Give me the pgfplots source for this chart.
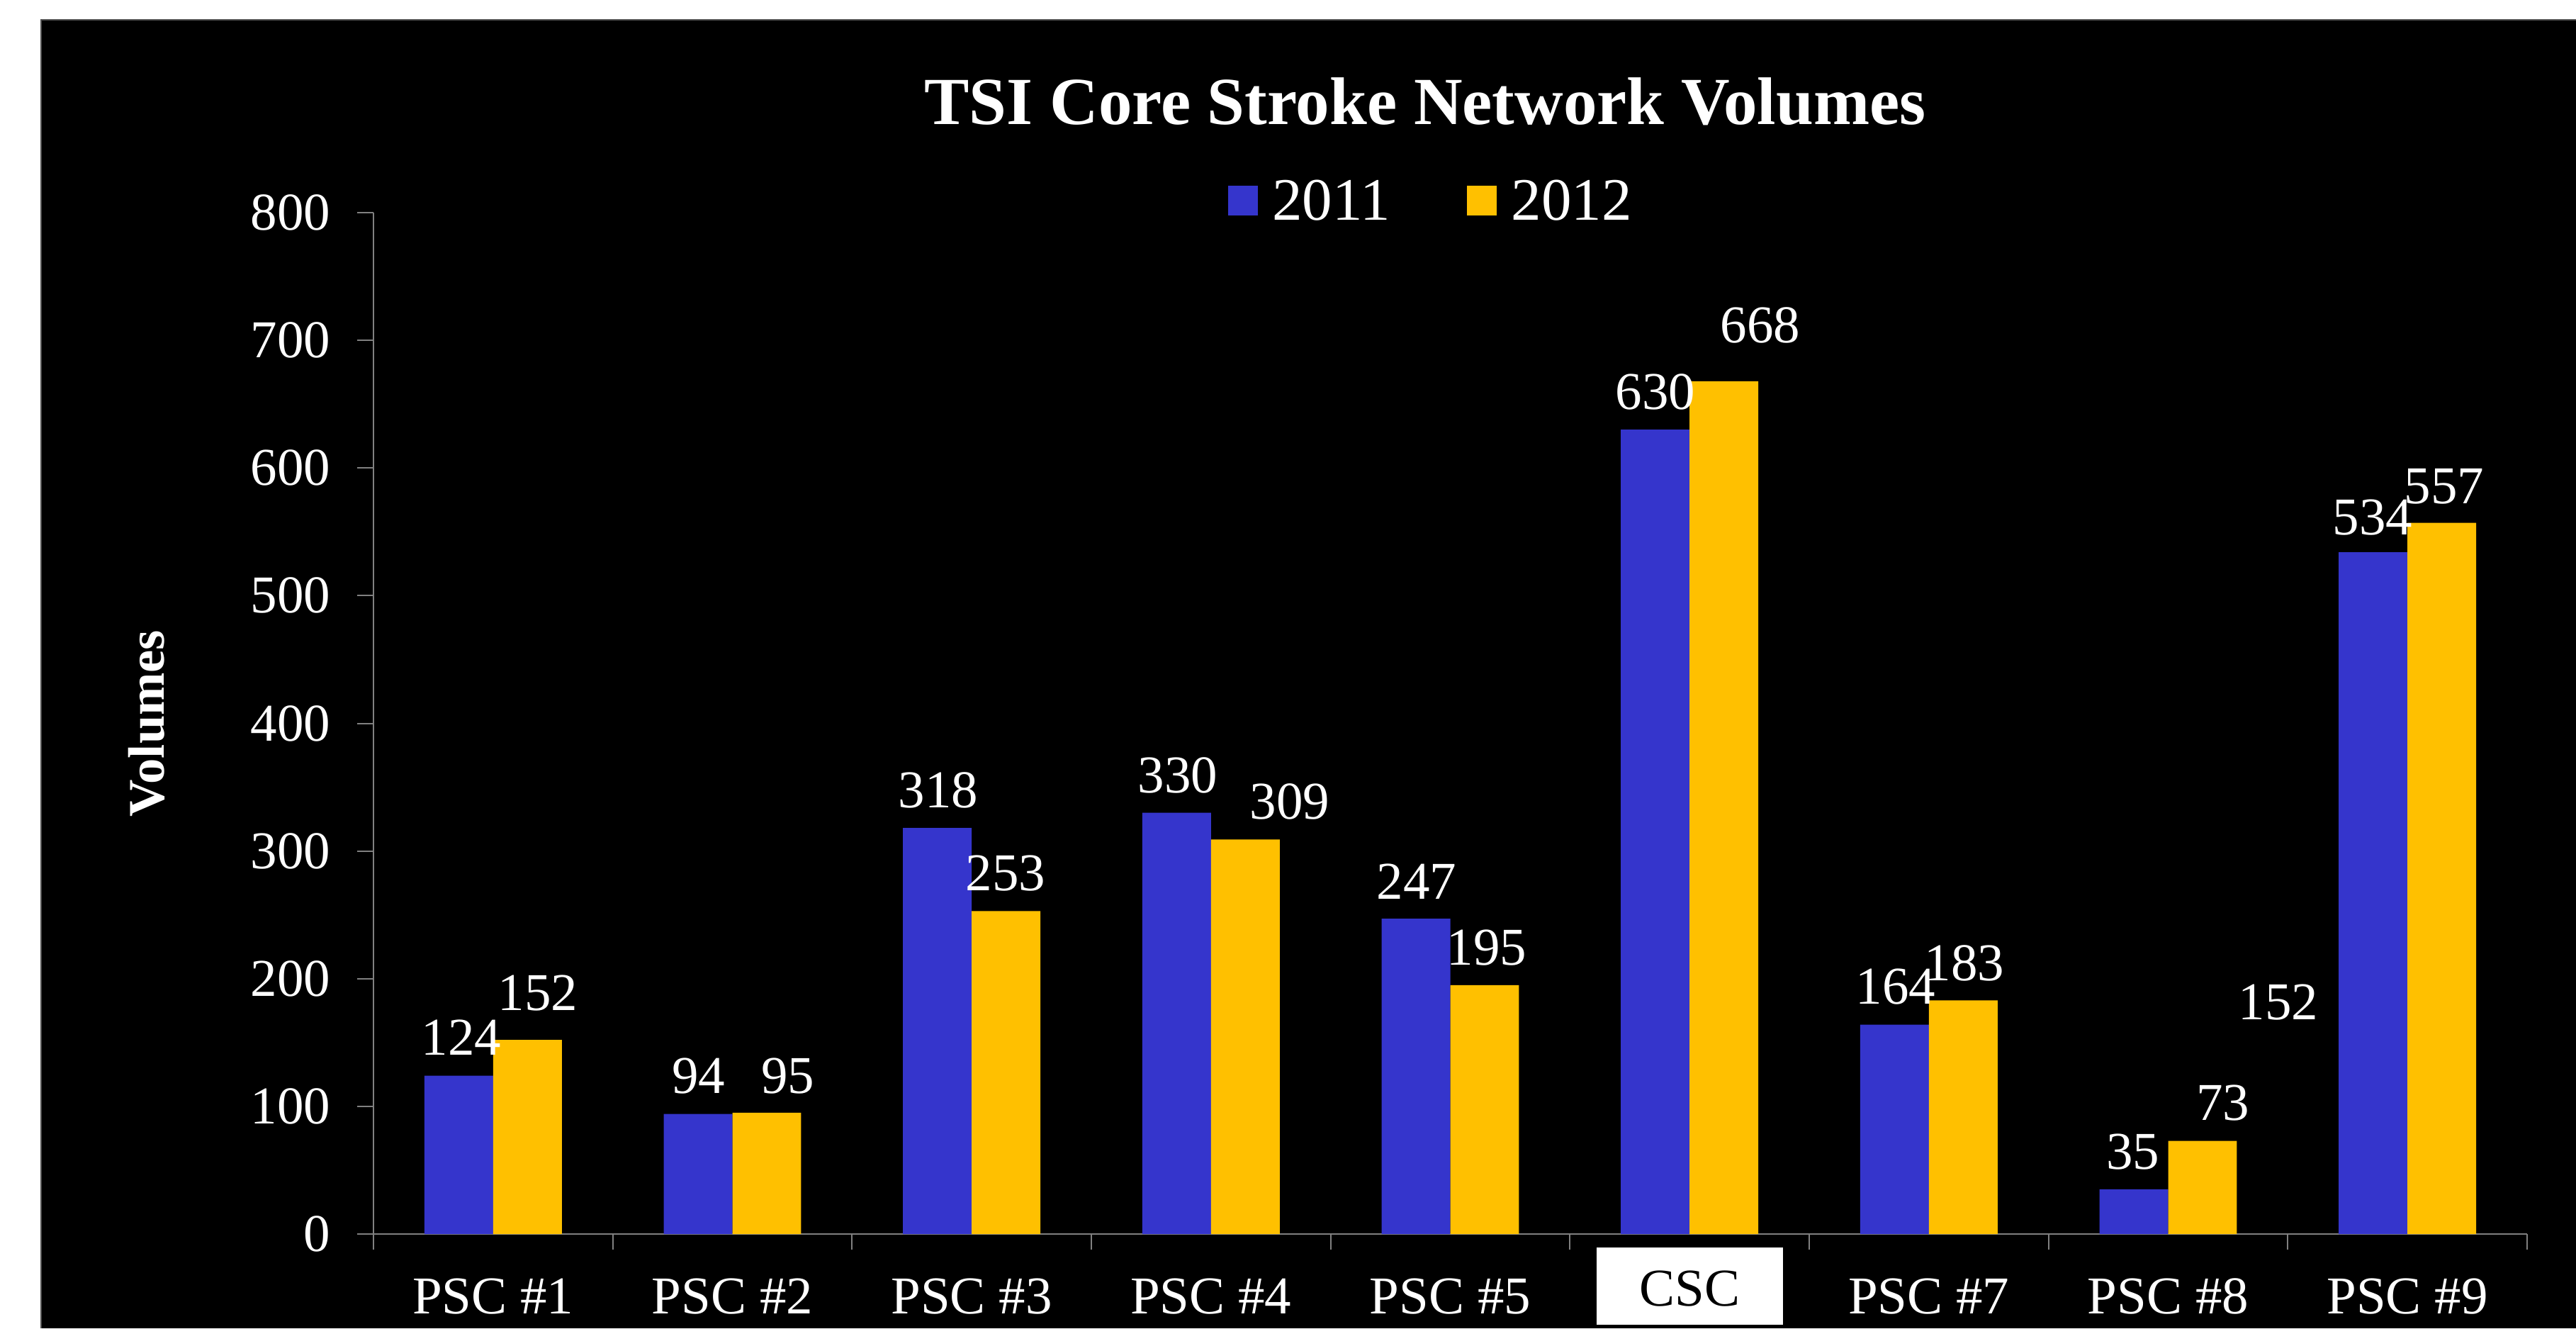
\documentclass[border=0pt]{standalone}
\usepackage{fontspec}
\setmainfont{Liberation Serif}
\usepackage{pgfplots}
\pgfplotsset{compat=1.18}
\definecolor{barblue}{HTML}{3535CC}
\definecolor{bargold}{HTML}{FFC000}
\definecolor{axgray}{HTML}{808080}
\definecolor{edgegray}{HTML}{505050}
\newcommand\csclabel{\raisebox{2.2pt}{\setlength{\fboxsep}{0pt}\colorbox{white}{\makebox[52.6pt]{\rule[-5.4pt]{0pt}{21.8pt}\textcolor{black}{CSC}}}}}
\begin{document}
\begin{tikzpicture}
\fill[white] (0pt,0pt) rectangle (727pt,374.8pt);
\fill[black] (11.6pt,0pt) rectangle (727pt,369.2pt);
\draw[edgegray, line width=0.5pt] (11.6pt,0pt) -- (11.6pt,369.2pt) -- (727pt,369.2pt);
\begin{axis}[
  at={(105.4pt,26.6pt)}, anchor=south west,
  scale only axis, width=607.8pt, height=288.2pt,
  xmin=0, xmax=9, ymin=0, ymax=800,
  clip=false,
  axis x line*=bottom, axis y line*=left,
  axis line style={axgray, line width=0.4pt},
  tick align=outside, major tick length=4.6pt, minor tick length=4.4pt,
  ytick={0,100,200,300,400,500,600,700,800},
  yticklabels={0,100,200,300,400,500,600,700,800},
  major y tick style={axgray, line width=0.4pt},
  xtick={0.5,1.5,2.5,3.5,4.5,5.5,6.5,7.5,8.5},
  xticklabels={PSC \#1,PSC \#2,PSC \#3,PSC \#4,PSC \#5,\csclabel,PSC \#7,PSC \#8,PSC \#9},
  major x tick style={draw=none},
  minor xtick={0,1,2,3,4,5,6,7,8,9},
  minor x tick style={axgray, line width=0.4pt},
  yticklabel style={white, font=\fontsize{15}{18}\selectfont, xshift=-4pt},
  xticklabel style={white, font=\fontsize{15}{18}\selectfont, anchor=base, yshift=-17.8pt},
  title={TSI Core Stroke Network Volumes},
  title style={at={(axis description cs:0.4883,1.0659)}, anchor=base, white, font=\bfseries\fontsize{19}{23}\selectfont},
  ylabel={Volumes},
  ylabel style={at={(axis description cs:-0.1053,0.5)}, anchor=center, white, font=\bfseries\fontsize{14.5}{17}\selectfont},
  legend columns=2,
  legend style={draw=none, fill=none, text=white, font=\fontsize{17}{20}\selectfont,
    inner sep=0pt, nodes={inner sep=0pt},
    at={(axis description cs:0.3965,1.0097)}, anchor=west,
    /tikz/every odd column/.append style={column sep=4.1pt},
    /tikz/every even column/.append style={column sep=21.6pt}},
]
\addplot[ybar, bar width=0.2872, bar shift=-0.1436, fill=barblue, draw=none,
  legend image code/.code={\fill[barblue] (0pt,-3.65pt) rectangle (8.4pt,4.75pt);}]
  coordinates {(0.5,124) (1.5,94) (2.5,318) (3.5,330) (4.5,247) (5.5,630) (6.5,164) (7.5,35) (8.5,534)};
\addlegendentry{2011}
\addplot[ybar, bar width=0.2872, bar shift=0.1436, fill=bargold, draw=none,
  legend image code/.code={\fill[bargold] (0pt,-3.65pt) rectangle (8.4pt,4.75pt);}]
  coordinates {(0.5,152) (1.5,95) (2.5,253) (3.5,309) (4.5,195) (5.5,668) (6.5,183) (7.5,73) (8.5,557)};
\addlegendentry{2012}
\addplot[only marks, mark=none, forget plot, point meta=explicit symbolic,
  nodes near coords={\pgfplotspointmeta},
  nodes near coords align={anchor=center},
  every node near coord/.append style={white, font=\fontsize{15}{18}\selectfont, inner sep=0pt, anchor=center}]
  coordinates {
  (0.367,153.8) [124] (0.687,188.8) [152]
  (1.359,123.8) [94] (1.732,123.8) [95]
  (2.360,347.5) [318] (2.641,282.6) [253]
  (3.361,359.2) [330] (3.829,338.7) [309]
  (4.359,275.9) [247] (4.652,224.3) [195]
  (5.357,659.5) [630] (5.795,711.7) [668]
  (6.361,193.8) [164] (6.648,212.1) [183]
  (7.353,64.4) [35] (7.729,102.7) [73]
  (7.960,181.5) [152]
  (8.354,561.3) [534] (8.653,585.7) [557]
  };
\end{axis}
\pgfresetboundingbox
\useasboundingbox (0pt,0pt) rectangle (727pt,374.8pt);
\end{tikzpicture}
\end{document}
